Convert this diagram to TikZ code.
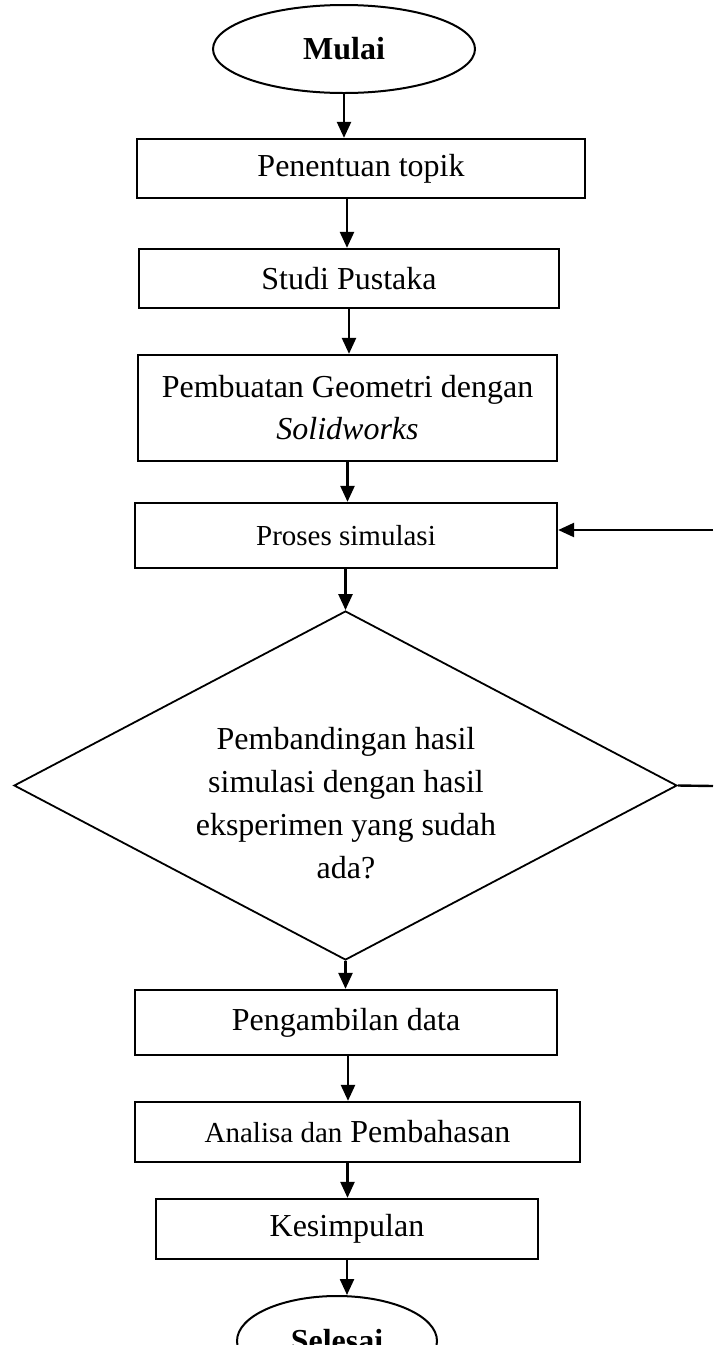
\documentclass[tikz,border=0pt]{standalone}
\usepackage{fontspec}
\setmainfont{Liberation Serif}
\usetikzlibrary{shapes.geometric,arrows.meta}
\tikzset{
  box/.style={draw, line width=2.3pt, rectangle, inner sep=0pt, align=center,
    font=\fontsize{32}{42}\selectfont},
  term/.style={draw, line width=2pt, ellipse, inner sep=0pt,
    font=\fontsize{32}{38}\selectfont\bfseries},
  arr/.style={line width=2.4pt, -{Triangle[length=16pt,width=14pt]}},
  plain/.style={line width=2.4pt},
}
\begin{document}
\begin{tikzpicture}[x=1pt,y=-1pt]
\useasboundingbox (0,0) rectangle (713,1345);
\clip (0,0) rectangle (713,1345);
\node[term, minimum width=262, minimum height=88] (mulai) at (344,49) {Mulai};
\node[box, minimum width=448, minimum height=59] (b1) at (361,168.5) {Penentuan topik};
\node[box, minimum width=420, minimum height=59] (b2) at (349,278.5) {Studi Pustaka};
\node[box, minimum width=419, minimum height=106] (b3) at (347.5,408) {Pembuatan Geometri dengan\\\textit{Solidworks}};
\node[box, minimum width=422, minimum height=65, font=\fontsize{29}{36}\selectfont] (b4) at (346,535.5) {Proses simulasi};
\node[draw, line width=1.8pt, diamond, minimum width=663, minimum height=349, inner sep=0pt] (q) at (345.5,785.5) {};
\node[align=center, font=\fontsize{32}{43}\selectfont] (qt) at (346,803) {Pembandingan hasil\\simulasi dengan hasil\\eksperimen yang sudah\\ada?};
\node[box, minimum width=422, minimum height=65] (b5) at (346,1022.5) {Pengambilan data};
\node[box, minimum width=445, minimum height=60] (b6) at (357.5,1132) {{\fontsize{29}{36}\selectfont Analisa dan} Pembahasan};
\node[box, minimum width=382, minimum height=60] (b7) at (347,1229) {Kesimpulan};
\node[term, minimum width=200, minimum height=90] (selesai) at (337,1341) {Selesai};

\coordinate (fb) at (713,530);
\coordinate (qr) at (713,786);

\draw[arr] (mulai.south) -- (mulai.south |- b1.north);
\draw[arr] ([xshift=-14pt]b1.south) -- ([xshift=-14pt]b1.south |- b2.north);
\draw[arr] (b2.south) -- (b2.south |- b3.north);
\draw[arr] (b3.south) -- (b3.south |- b4.north);
\draw[arr] (q.north |- b4.south) -- (q.north);
\draw[arr] (q.south) -- (q.south |- b5.north);
\draw[arr] ([xshift=2pt]b5.south) -- ([xshift=2pt]b5.south |- b6.north);
\draw[arr] ([xshift=-10pt]b6.south) -- ([xshift=-10pt]b6.south |- b7.north);
\draw[arr] (b7.south) -- (b7.south |- selesai.north);
\draw[arr] (fb) -- (fb -| b4.east);
\draw[plain] (q.east) -- (qr);
\end{tikzpicture}
\end{document}
